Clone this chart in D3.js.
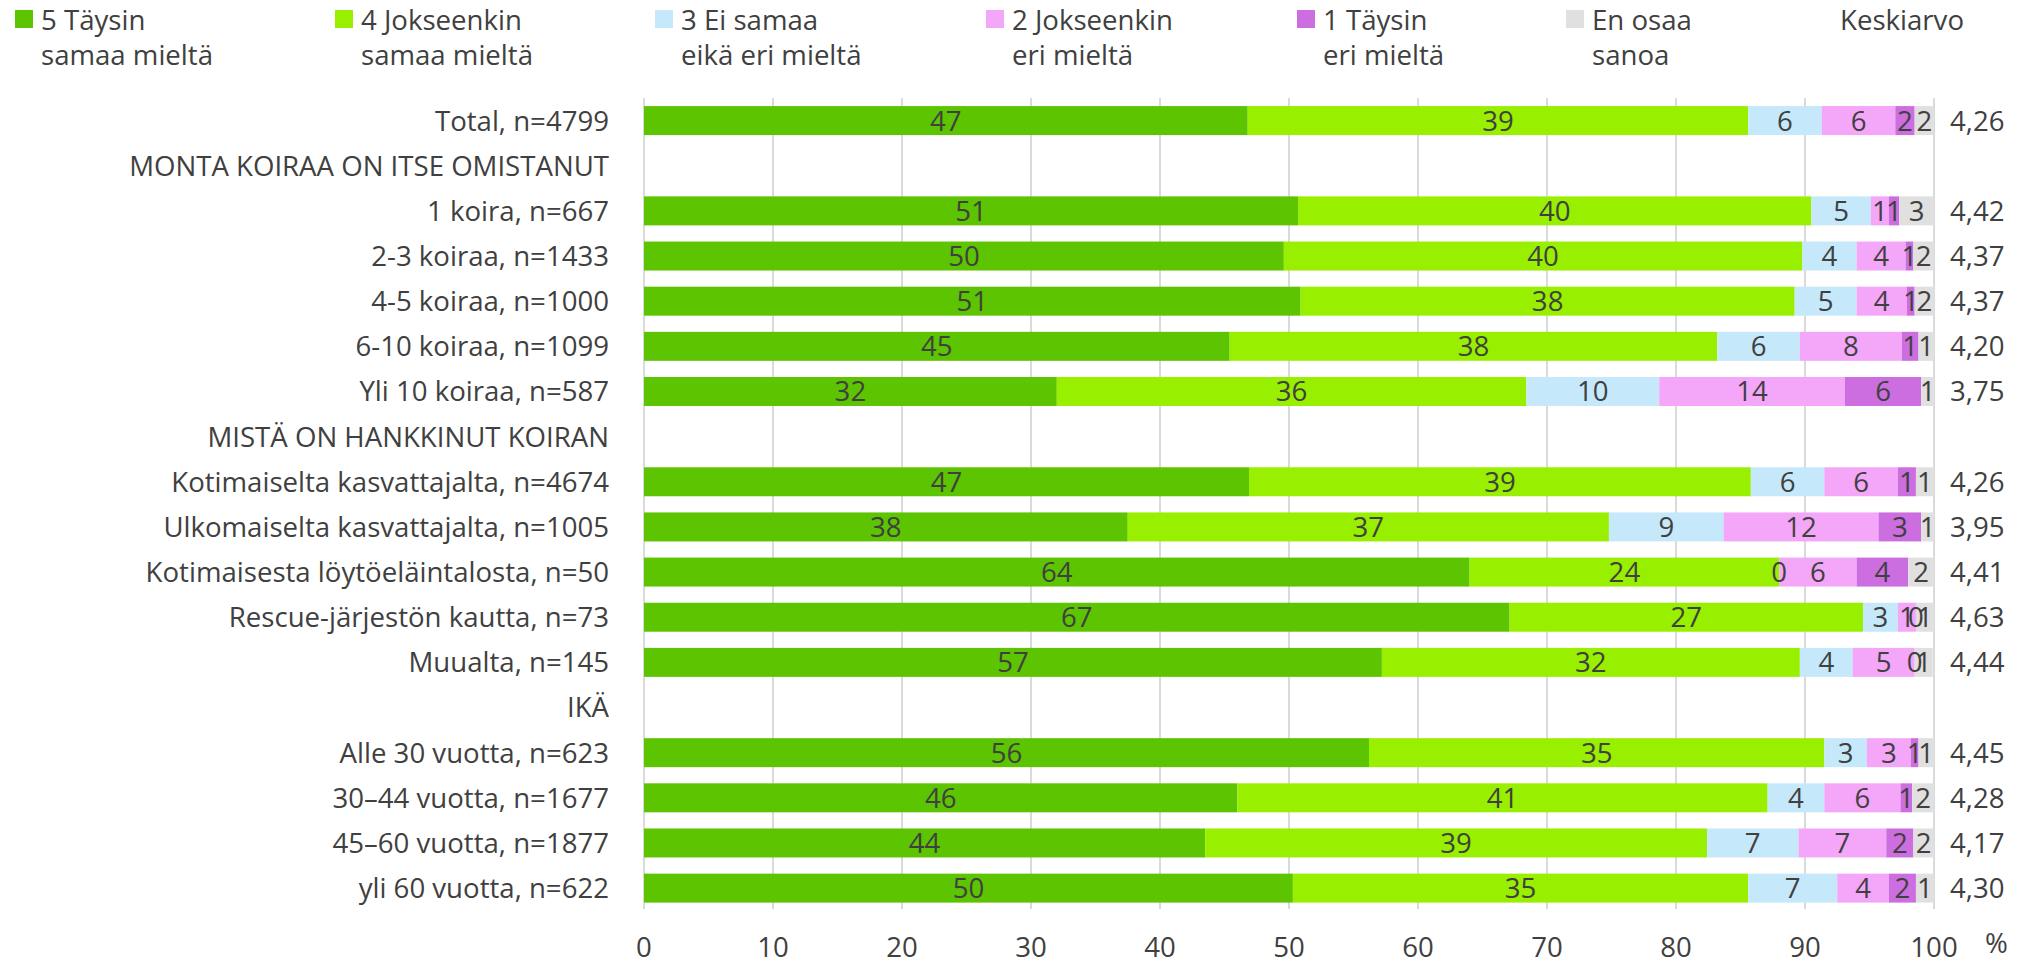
<!DOCTYPE html>
<html><head><meta charset="utf-8">
<script src="https://cdn.jsdelivr.net/npm/d3@7"></script>
<style>
html,body{margin:0;padding:0;background:#fff;}
svg text{font-family:"Open Sans",sans-serif;fill:#404040;}
</style></head>
<body><svg id="chart" width="2032" height="965"></svg>
<script>
// ---- DATA ----
const categories = [
  "Total, n=4799",
  "MONTA KOIRAA ON ITSE OMISTANUT",
  "1 koira, n=667",
  "2-3 koiraa, n=1433",
  "4-5 koiraa, n=1000",
  "6-10 koiraa, n=1099",
  "Yli 10 koiraa, n=587",
  "MISTÄ ON HANKKINUT KOIRAN",
  "Kotimaiselta kasvattajalta, n=4674",
  "Ulkomaiselta kasvattajalta, n=1005",
  "Kotimaisesta löytöeläintalosta, n=50",
  "Rescue-järjestön kautta, n=73",
  "Muualta, n=145",
  "IKÄ",
  "Alle 30 vuotta, n=623",
  "30–44 vuotta, n=1677",
  "45–60 vuotta, n=1877",
  "yli 60 vuotta, n=622"
];
const seriesNames = [
  ["5 Täysin", "samaa mieltä"],
  ["4 Jokseenkin", "samaa mieltä"],
  ["3 Ei samaa", "eikä eri mieltä"],
  ["2 Jokseenkin", "eri mieltä"],
  ["1 Täysin", "eri mieltä"],
  ["En osaa", "sanoa"]
];
const s5 = [46.8, null, 50.7, 49.6, 50.9, 45.4, 32.0, null, 46.9, 37.5, 64, 67.1, 57.2, null, 56.2, 46.0, 43.5, 50.3];
const s4 = [38.8, null, 39.8, 40.2, 38.3, 37.8, 36.4, null, 38.9, 37.3, 24, 27.4, 32.4, null, 35.3, 41.1, 38.9, 35.3];
const s3 = [5.7, null, 4.6, 4.2, 4.8, 6.4, 10.3, null, 5.7, 8.9, 0, 2.7, 4.1, null, 3.3, 4.4, 7.1, 6.9];
const s2 = [5.7, null, 1.4, 3.8, 3.9, 7.9, 14.4, null, 5.7, 12.0, 6, 1.4, 4.8, null, 3.4, 5.9, 6.8, 4.0];
const s1 = [1.5, null, 0.8, 0.6, 0.6, 1.3, 5.9, null, 1.4, 3.3, 4, 0, 0, null, 0.6, 0.9, 2.1, 2.1];
const s0 = [1.5, null, 2.7, 1.6, 1.5, 1.2, 1.0, null, 1.4, 1.0, 2, 1.4, 1.4, null, 1.2, 1.7, 1.6, 1.4];
const means = [4.26, null, 4.42, 4.37, 4.37, 4.20, 3.75, null, 4.26, 3.95, 4.41, 4.63, 4.44, null, 4.45, 4.28, 4.17, 4.30];
const xTicks = [0, 10, 20, 30, 40, 50, 60, 70, 80, 90, 100];
const meanTitle = "Keskiarvo";
const colors = ["#5cc400", "#99ef00", "#c5e8fb", "#f4a6f8", "#cd6ee0", "#e0e0e0"];

// ---- LAYOUT ----
const svg = d3.select("#chart");
const fontSize = 27.6;
const x = d3.scaleLinear().domain([0, 100]).range([644, 1934]);
const y = d3.scaleBand().domain(d3.range(categories.length))
  .range([98, 98 + 45.15 * categories.length]).paddingInner(0.358).paddingOuter(0.179);

const seriesArrays = [s5, s4, s3, s2, s1, s0];
const keys = ["s5", "s4", "s3", "s2", "s1", "s0"];
const table = categories.map((c, i) => {
  const o = {idx: i, cat: c, header: s5[i] === null};
  keys.forEach((k, j) => o[k] = seriesArrays[j][i] === null ? 0 : seriesArrays[j][i]);
  return o;
});
const stacked = d3.stack().keys(keys)(table);

// gridlines
const gridBottom = 909;
svg.append("g").selectAll("line").data(xTicks).join("line")
  .attr("x1", d => x(d)).attr("x2", d => x(d))
  .attr("y1", 98).attr("y2", gridBottom)
  .attr("stroke", "#c6c6c6").attr("stroke-width", 1.3);

// bars
const gBars = svg.append("g");
stacked.forEach((layer, j) => {
  gBars.append("g").attr("fill", colors[j]).selectAll("rect")
    .data(layer.filter(d => !d.data.header)).join("rect")
    .attr("x", d => x(d[0])).attr("width", d => Math.max(0, x(d[1]) - x(d[0])))
    .attr("y", d => y(d.data.idx)).attr("height", y.bandwidth());
});
// segment labels
stacked.forEach((layer, j) => {
  gBars.append("g").selectAll("text")
    .data(layer.filter(d => !d.data.header)).join("text")
    .attr("x", d => (x(d[0]) + x(d[1])) / 2)
    .attr("y", d => y(d.data.idx) + y.bandwidth() / 2)
    .attr("dy", "0.36em").attr("text-anchor", "middle")
    .style("font-size", fontSize + "px")
    .text(d => Math.round(d[1] - d[0]));
});

// category labels
svg.append("g").selectAll("text").data(categories).join("text")
  .attr("x", 609).attr("y", (d, i) => y(i) + y.bandwidth() / 2)
  .attr("dy", "0.36em").attr("text-anchor", "end")
  .style("font-size", fontSize + "px").text(d => d);

// means
svg.append("g").selectAll("text").data(means.map((m, i) => ({m, i})).filter(d => d.m !== null)).join("text")
  .attr("x", 1950).attr("y", d => y(d.i) + y.bandwidth() / 2)
  .attr("dy", "0.36em").style("font-size", fontSize + "px")
  .text(d => d.m.toFixed(2).replace(".", ","));

// x axis labels
svg.append("g").selectAll("text").data(xTicks).join("text")
  .attr("x", d => x(d)).attr("y", 957).attr("text-anchor", "middle")
  .style("font-size", fontSize + "px").text(d => d);
svg.append("text").attr("x", 1985).attr("y", 953).style("font-size", fontSize + "px").text("%");

// legend
const legendX = [15, 335, 655, 986, 1297, 1566];
const l1 = 30, l2 = 65;
const lg = svg.append("g");
seriesNames.forEach((nm, j) => {
  lg.append("rect").attr("x", legendX[j]).attr("y", 10).attr("width", 18).attr("height", 18).attr("fill", colors[j]);
  const t = lg.append("text").attr("x", legendX[j] + 26).attr("y", l1).style("font-size", fontSize + "px");
  t.append("tspan").attr("x", legendX[j] + 26).text(nm[0]);
  t.append("tspan").attr("x", legendX[j] + 26).attr("y", l2).text(nm[1]);
});
lg.append("text").attr("x", 1840).attr("y", l1).style("font-size", fontSize + "px").text(meanTitle);
</script></body></html>
